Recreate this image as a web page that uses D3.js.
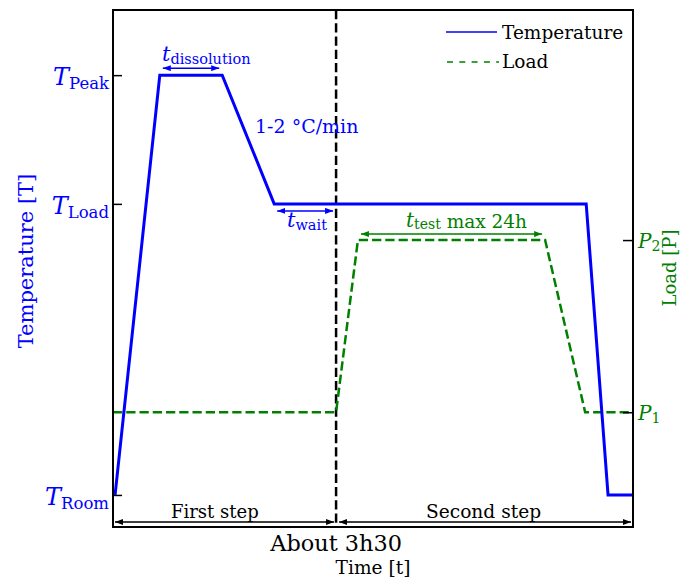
<!DOCTYPE html>
<html><head><meta charset="utf-8">
<script src="https://cdn.jsdelivr.net/npm/d3@7/dist/d3.min.js"></script>
<style>body{margin:0;background:#fff} svg{display:block} text{font-family:"DejaVu Serif",serif}</style>
</head><body>
<svg id="chart" width="680" height="578"></svg>
<script>
// ---- data (schematic units) ----
const timeDomain = [0, 100];
const valueDomain = [0, 100];
const tempTimes = [0.4, 9.0, 21.0, 31.0, 91.0, 95.2, 100];
const tempValues = [6.2, 87.4, 87.4, 62.5, 62.5, 6.2, 6.2];
const loadTimes = [0, 42.9, 47.1, 83.1, 90.8, 100];
const loadValues = [22.2, 22.2, 55.5, 55.5, 22.2, 22.2];
const tempTickValues = [6.2, 62.5, 87.4];
const tempTickLabels = ["Room", "Load", "Peak"];
const loadTickValues = [22.2, 55.5];
const loadTickLabels = ["1", "2"];
const stepTime = 42.9;
const stepLabels = ["First step", "Second step"];
const legendLabels = ["Temperature", "Load"];
const durationLabel = "About 3h30";

const BLUE = "#0000ff", GREEN = "#008000", BLACK = "#000";
const svg = d3.select("#chart");
const L = 113, R = 633, T = 10, B = 527;
const x = d3.scaleLinear().domain(timeDomain).range([L, R]);
const yT = d3.scaleLinear().domain(valueDomain).range([B, T]);
const yL = d3.scaleLinear().domain(valueDomain).range([B, T]);

// markers
const defs = svg.append("defs");
[["b", BLUE], ["g", GREEN], ["k", BLACK]].forEach(([id, c]) => {
  defs.append("marker").attr("id", "arr-" + id)
    .attr("viewBox", "0 0 8 6").attr("refX", 8).attr("refY", 3)
    .attr("markerWidth", 8).attr("markerHeight", 6)
    .attr("markerUnits", "userSpaceOnUse")
    .attr("orient", "auto-start-reverse")
    .append("path").attr("d", "M0,0 L8,3 L0,6 Z").attr("fill", c);
});

// step separator
svg.append("line").attr("x1", x(stepTime)).attr("x2", x(stepTime))
  .attr("y1", T).attr("y2", B).attr("stroke", BLACK).attr("stroke-width", 2.5)
  .attr("stroke-dasharray", "9.25,4");

// load line
const loadLine = d3.line().x((d, i) => x(loadTimes[i])).y(d => yL(d));
svg.append("path").attr("d", loadLine(loadValues)).attr("fill", "none")
  .attr("stroke", GREEN).attr("stroke-width", 2.5).attr("stroke-dasharray", "9.25,4");

// temperature line
const tempLine = d3.line().x((d, i) => x(tempTimes[i])).y(d => yT(d));
svg.append("path").attr("d", tempLine(tempValues)).attr("fill", "none")
  .attr("stroke", BLUE).attr("stroke-width", 3).attr("stroke-linejoin", "miter");

// axes (inward ticks)
const gl = svg.append("g").attr("transform", `translate(${L},0)`)
  .call(d3.axisLeft(yT).tickValues(tempTickValues).tickSizeInner(-9).tickSizeOuter(0).tickFormat(""));
gl.select(".domain").remove();
gl.selectAll(".tick line").attr("stroke", BLACK).attr("stroke-width", 1.5);
const gr = svg.append("g").attr("transform", `translate(${R},0)`)
  .call(d3.axisRight(yL).tickValues(loadTickValues).tickSizeInner(-10).tickSizeOuter(0).tickFormat(""));
gr.select(".domain").remove();
gr.selectAll(".tick line").attr("stroke", BLACK).attr("stroke-width", 1.5);

// frame
svg.append("rect").attr("x", L).attr("y", T).attr("width", R - L).attr("height", B - T)
  .attr("fill", "none").attr("stroke", BLACK).attr("stroke-width", 2);

// left tick labels T_sub
tempTickValues.forEach((v, i) => {
  const t = svg.append("text").attr("x", L - 4).attr("y", yT(v) + 10)
    .attr("text-anchor", "end").attr("fill", BLUE);
  t.append("tspan").attr("font-style", "italic").attr("font-size", 24).text("T");
  t.append("tspan").attr("font-size", 16.5).attr("dy", 4).text(tempTickLabels[i]);
});
// right tick labels P_sub
loadTickValues.forEach((v, i) => {
  const t = svg.append("text").attr("x", R + 5).attr("y", yL(v) + 8).attr("fill", GREEN);
  t.append("tspan").attr("font-style", "italic").attr("font-size", 20).text("P");
  t.append("tspan").attr("font-size", 14).attr("dy", 3).text(loadTickLabels[i]);
});

// axis titles
svg.append("text").attr("transform", `translate(33,261) rotate(-90)`)
  .attr("text-anchor", "middle").attr("font-size", 21).attr("fill", BLUE).text("Temperature [T]");
svg.append("text").attr("transform", `translate(676,268) rotate(-90)`)
  .attr("text-anchor", "middle").attr("font-size", 18).attr("fill", GREEN).text("Load [P]");
svg.append("text").attr("x", (L + R) / 2).attr("y", 574).attr("text-anchor", "middle")
  .attr("font-size", 18.6).attr("fill", BLACK).text("Time [t]");
svg.append("text").attr("x", x(stepTime)).attr("y", 551).attr("text-anchor", "middle")
  .attr("font-size", 22.4).attr("fill", BLACK).text(durationLabel);

// arrows helper
function arrow(x1, x2, y, id, color) {
  svg.append("line").attr("x1", x1).attr("x2", x2).attr("y1", y).attr("y2", y)
    .attr("stroke", color).attr("stroke-width", 1.5)
    .attr("marker-start", `url(#arr-${id})`).attr("marker-end", `url(#arr-${id})`);
}

// t_dissolution
arrow(x(tempTimes[1]) + 3, x(tempTimes[2]) - 3, yT(tempValues[1]) - 7, "b", BLUE);
{
  const t = svg.append("text").attr("x", 162).attr("y", 61).attr("fill", BLUE);
  t.append("tspan").attr("font-style", "italic").attr("font-size", 21).text("t");
  t.append("tspan").attr("font-size", 14.5).attr("dy", 3).text("dissolution");
}
// rate
svg.append("text").attr("x", 255).attr("y", 133).attr("font-size", 19).attr("fill", BLUE).text("1-2 °C/min");
// t_wait
arrow(x(tempTimes[3]) + 3, x(stepTime) - 3, yT(tempValues[3]) + 7, "b", BLUE);
{
  const t = svg.append("text").attr("x", 287).attr("y", 227).attr("fill", BLUE);
  t.append("tspan").attr("font-style", "italic").attr("font-size", 21).text("t");
  t.append("tspan").attr("font-size", 14.5).attr("dy", 3).text("wait");
}
// t_test
arrow(x(loadTimes[2]) + 3, x(loadTimes[3]) - 3, yL(loadValues[2]) - 6, "g", GREEN);
{
  const t = svg.append("text").attr("x", 406).attr("y", 227).attr("fill", GREEN);
  t.append("tspan").attr("font-style", "italic").attr("font-size", 20).text("t");
  t.append("tspan").attr("font-size", 14).attr("dy", 2).text("test");
  t.append("tspan").attr("font-size", 18.5).attr("dy", -1).text(" max 24h");
}
// steps
arrow(x(timeDomain[0]) + 2, x(stepTime) - 2, 522, "k", BLACK);
arrow(x(stepTime) + 3, x(timeDomain[1]) - 2, 522, "k", BLACK);
svg.append("text").attr("x", 171).attr("y", 518).attr("font-size", 18).attr("fill", BLACK).text(stepLabels[0]);
svg.append("text").attr("x", 426).attr("y", 518).attr("font-size", 18.6).attr("fill", BLACK).text(stepLabels[1]);

// legend
const lg = svg.append("g");
lg.append("line").attr("x1", 446).attr("x2", 497).attr("y1", 32).attr("y2", 32)
  .attr("stroke", BLUE).attr("stroke-width", 1.5);
lg.append("line").attr("x1", 447).attr("x2", 499).attr("y1", 62).attr("y2", 62)
  .attr("stroke", GREEN).attr("stroke-width", 1.5).attr("stroke-dasharray", "6,6.3");
lg.append("text").attr("x", 502).attr("y", 39).attr("font-size", 18.5).attr("fill", BLACK).text(legendLabels[0]);
lg.append("text").attr("x", 502).attr("y", 68).attr("font-size", 18.5).attr("fill", BLACK).text(legendLabels[1]);
</script>
</body></html>
